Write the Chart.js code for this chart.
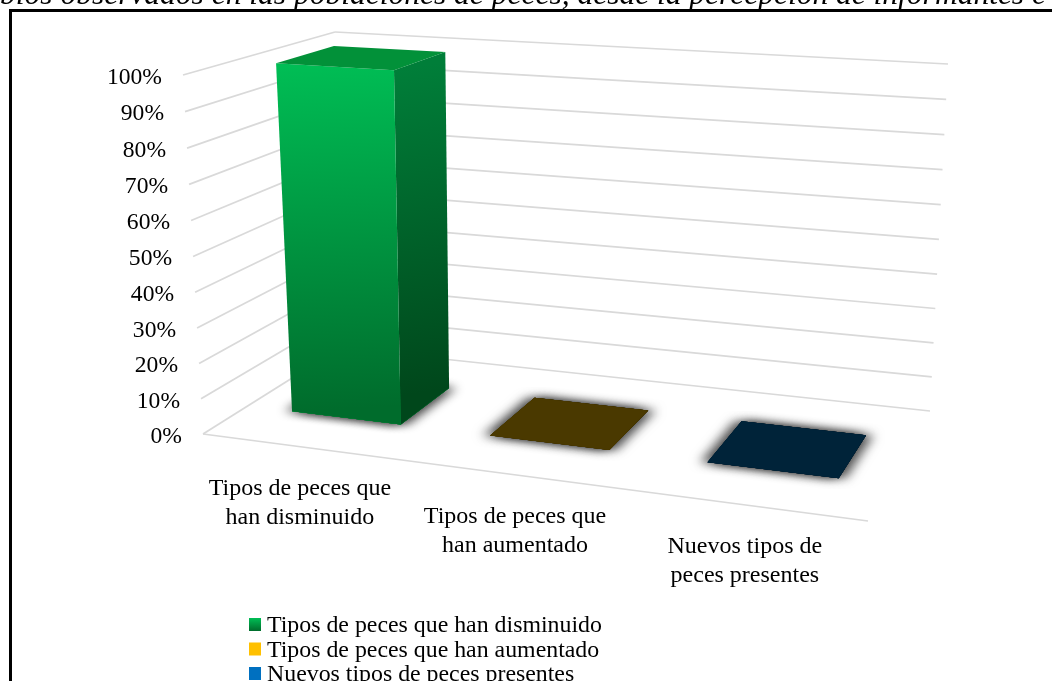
<!DOCTYPE html>
<html>
<head>
<meta charset="utf-8">
<script src="https://cdn.jsdelivr.net/npm/chart.js@4"></script>
<style>
    html, body { margin: 0; padding: 0; background: #fff; overflow: hidden; }
    #wrap { position: relative; width: 1052px; height: 681px; overflow: hidden; }
    #chart { position: absolute; left: 0; top: 0; }
    #caption {
        position: absolute; left: 0; top: -24px; height: 34px; width: 1052px; overflow: hidden;
        font: italic 31.5px "Liberation Serif", serif; white-space: nowrap; color: #000; line-height: 35px;
    }
    #frame {
        position: absolute; left: 9px; top: 9px; right: -5px; bottom: -5px;
        border-left: 3px solid #000; border-top: 3px solid #000;
    }
</style>
</head>
<body>
<div id="wrap">
    <canvas id="chart" width="1052" height="681"></canvas>
    <div id="caption">bios observados en las poblaciones de peces, desde la percepción de informantes c</div>
    <div id="frame"></div>
</div>
<script>
const categories = [
    ['Tipos de peces que', 'han disminuido'],
    ['Tipos de peces que', 'han aumentado'],
    ['Nuevos tipos de', 'peces presentes'],
]
const percentages = [100, 0, 0]
const tickStep = 10

const legendColors = ['#00A84C', '#FFC000', '#0070C0']
const frontColors = [['#00BE55', '#006C2C'], ['#FFC000', '#997300'], ['#0070C0', '#004373']]
const sideColors = [['#007E39', '#00471B'], ['#7F6000', '#4A3900'], ['#004373', '#002339']]
const topColors = ['#029139', '#4A3900', '#002339']
const gridColor = '#D9D9D9'
const fontName = '"Liberation Serif", serif'

// walls of the 3D box, floor and 100% level: front-left, front-right, back-right, back-left
const floorQuad = [[203, 434], [868, 521], [930, 411], [340, 348]]
const topQuad = [[183, 75], [900, 119], [948, 64], [335, 32]]
const depthFrom = 0.3
const depthTo = 0.7
const barShift = 0.005
const barLean = -6
const labelNudge = [-1, 4, 2]

function quadMap(q) {
    const [[x0, y0], [x1, y1], [x2, y2], [x3, y3]] = q
    const dx1 = x1 - x2, dx2 = x3 - x2, sx = x0 - x1 + x2 - x3
    const dy1 = y1 - y2, dy2 = y3 - y2, sy = y0 - y1 + y2 - y3
    const den = dx1 * dy2 - dx2 * dy1
    const g = (sx * dy2 - dx2 * sy) / den
    const h = (dx1 * sy - sx * dy1) / den
    const a = x1 - x0 + g * x1, b = x3 - x0 + h * x3
    const d = y1 - y0 + g * y1, e = y3 - y0 + h * y3
    return (u, v) => {
        const w = g * u + h * v + 1
        return [(a * u + b * v + x0) / w, (d * u + e * v + y0) / w]
    }
}

const floorMap = quadMap(floorQuad)
const topMap = quadMap(topQuad)

// u: along the categories, v: depth, w: height, all 0..1
function project(u, v, w, lean = 0) {
    const p0 = floorMap(u, v)
    const p1 = topMap(u, v)
    const t = w - 0.022 * w * (1 - w)
    return [p0[0] + (p1[0] - p0[0]) * t + lean * t, p0[1] + (p1[1] - p0[1]) * t]
}

function poly(ctx, pts) {
    ctx.beginPath()
    pts.forEach((p, i) => i ? ctx.lineTo(p[0], p[1]) : ctx.moveTo(p[0], p[1]))
    ctx.closePath()
}

function line(ctx, a, b) {
    ctx.beginPath()
    ctx.moveTo(a[0], a[1])
    ctx.lineTo(b[0], b[1])
    ctx.stroke()
}

function shade(ctx, a, b, stops) {
    const grad = ctx.createLinearGradient(a[0], a[1], b[0], b[1])
    grad.addColorStop(0, stops[0])
    grad.addColorStop(1, stops[1])
    return grad
}

const box3d = {
    id: 'box3d',
    beforeDatasetsDraw(chart) {
        const ctx = chart.ctx
        const y = chart.scales.y
        ctx.save()
        ctx.fillStyle = '#fff'
        ctx.fillRect(0, 0, chart.width, chart.height)

        // walls
        ctx.strokeStyle = gridColor
        ctx.lineWidth = 1.75
        ctx.font = '23.6px ' + fontName
        ctx.textAlign = 'right'
        ctx.textBaseline = 'middle'
        y.ticks.forEach(t => {
            const w = (t.value - y.min) / (y.max - y.min)
            const left = project(0, 0, w)
            line(ctx, left, project(0, 1, w))
            line(ctx, project(0, 1, w), project(1, 1, w))
            ctx.fillStyle = '#000'
            ctx.fillText(t.value + '%', left[0] - 21, left[1] + 2.5)
        })
        line(ctx, project(0, 0, 0), project(1, 0, 0))
        ctx.restore()
    },
    afterDatasetsDraw(chart) {
        const ctx = chart.ctx
        const area = chart.chartArea
        const bars = chart.getDatasetMeta(0).data
        ctx.save()
        bars.forEach((bar, i) => {
            const u0 = (bar.x - bar.width / 2 - area.left) / area.width + barShift
            const u1 = (bar.x + bar.width / 2 - area.left) / area.width + barShift
            const h = (bar.base - bar.y) / area.height
            const foot = [project(u0, depthFrom, 0), project(u1, depthFrom, 0), project(u1, depthTo, 0), project(u0, depthTo, 0)]
            const roof = [u0, u1, u1, u0].map((u, k) => project(u, k < 2 ? depthFrom : depthTo, h, barLean))

            // soft shadow on the floor
            ctx.save()
            ctx.shadowColor = 'rgba(0,0,0,0.32)'
            ctx.shadowBlur = 10
            ctx.fillStyle = topColors[i]
            ;[-10, -5, 0, 5, 10].forEach(dx => {
                ctx.shadowOffsetX = dx
                poly(ctx, foot)
                ctx.fill()
            })
            ctx.restore()

            if (h > 0) {
                ctx.fillStyle = shade(ctx, roof[1], foot[2], sideColors[i])
                poly(ctx, [roof[1], roof[2], foot[2], foot[1]])
                ctx.fill()
                ctx.fillStyle = shade(ctx, roof[0], foot[0], frontColors[i])
                poly(ctx, [roof[0], roof[1], foot[1], foot[0]])
                ctx.fill()
            }
            ctx.fillStyle = topColors[i]
            poly(ctx, roof)
            ctx.fill()
        })

        // category labels under the front edge
        ctx.fillStyle = '#000'
        ctx.font = '24px ' + fontName
        ctx.textAlign = 'center'
        ctx.textBaseline = 'middle'
        bars.forEach((bar, i) => {
            const p = project((bar.x - area.left) / area.width, 0, 0)
            categories[i].forEach((text, k) => ctx.fillText(text, p[0] + labelNudge[i], p[1] + 42 + k * 29))
        })

        // legend
        ctx.font = '23.85px ' + fontName
        categories.forEach((cat, i) => {
            const top = 618 + i * 24.5
            ctx.fillStyle = i ? legendColors[i] : shade(ctx, [0, top], [0, top + 13], ['#00BE55', '#006C2C'])
            ctx.fillRect(249, top, 12, 13)
            ctx.fillStyle = '#000'
            ctx.textAlign = 'left'
            ctx.fillText(cat.join(' '), 267, top + 8)
        })
        ctx.restore()
    },
}

new Chart(document.getElementById('chart').getContext('2d'), {
    type: 'bar',
    data: {
        labels: categories,
        datasets: [{
            data: percentages,
            backgroundColor: 'transparent',
            borderWidth: 0,
            barPercentage: 0.56,
            categoryPercentage: 1,
        }],
    },
    options: {
        responsive: false,
        animation: false,
        layout: { padding: 0 },
        plugins: { legend: { display: false }, tooltip: { enabled: false } },
        scales: {
            x: { display: false },
            y: { display: false, min: 0, max: 100, ticks: { stepSize: tickStep } },
        },
    },
    plugins: [box3d],
})
</script>
</body>
</html>
